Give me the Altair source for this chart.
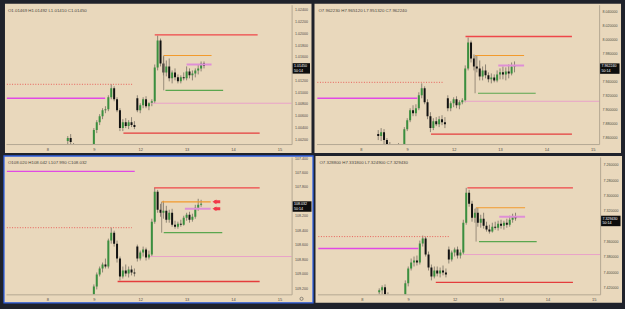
import altair as alt
import pandas as pd

FONT = "Liberation Sans"
BG = "#e9d8bc"
FRAME = "#1f222b"
GREEN = "#3a8f3e"
BLACK = "#121212"
WICK = "#8c8373"
AXIS_LINE = "#b3a792"
LABEL = "#4d4a45"
BLUE = "#2f5fe0"

# ---------------- data ----------------
DAY_TICKS = [0, 16, 32, 48, 64, 80]
DAY_LABELS = ["8", "9", "12", "13", "14", "15"]
COUNTDOWN = "50:14"

LEVEL_NAMES = ["red_top", "orange", "pink_short", "green", "red_dotted", "magenta", "pink_long", "red_bottom"]

# top-left
tl_bar = list(range(7, 55))
tl_open = [1.00169, 1.00220, 1.00102, 1.00034, 1.00017, 0.99983, 1.00017, 0.99966, 1.00000, 1.00051,
           1.00355, 1.00490, 1.00592, 1.00693, 1.00710, 1.00913, 1.01065, 1.00879, 1.00693, 1.00389,
           1.00490, 1.00423, 1.00490, 1.00440, 1.00896, 1.00693, 1.00778, 1.00879, 1.00761, 1.00811,
           1.00845, 1.01420, 1.01876, 1.01487, 1.01335, 1.01437, 1.01234, 1.01335, 1.01251, 1.01183,
           1.01251, 1.01234, 1.01352, 1.01285, 1.01318, 1.01369, 1.01403, 1.01487]
tl_close = [1.00220, 1.00152, 1.00034, 1.00017, 0.99983, 1.00017, 0.99966, 1.00000, 1.00051, 1.00355,
            1.00490, 1.00592, 1.00693, 1.00710, 1.00913, 1.01065, 1.00879, 1.00693, 1.00389, 1.00490,
            1.00423, 1.00490, 1.00440, 1.00406, 1.00693, 1.00778, 1.00879, 1.00761, 1.00811, 1.00845,
            1.01420, 1.01876, 1.01487, 1.01335, 1.01437, 1.01234, 1.01335, 1.01251, 1.01183, 1.01251,
            1.01234, 1.01352, 1.01285, 1.01318, 1.01369, 1.01403, 1.01487, 1.01450]
tl_high = [1.00254, 1.00288, 1.00135, 1.00085, 1.00068, 1.00051, 1.00068, 1.00034, 1.00085, 1.00389,
           1.00524, 1.00626, 1.00727, 1.00761, 1.00947, 1.01133, 1.01099, 1.00913, 1.00727, 1.00541,
           1.00558, 1.00524, 1.00575, 1.00507, 1.00947, 1.00811, 1.00913, 1.00930, 1.00828, 1.00879,
           1.01470, 1.01961, 1.01910, 1.01606, 1.01538, 1.01572, 1.01369, 1.01403, 1.01301, 1.01285,
           1.01335, 1.01437, 1.01403, 1.01369, 1.01403, 1.01470, 1.01521, 1.01521]
tl_low = [1.00068, 1.00051, 0.99983, 0.99933, 0.99916, 0.99899, 0.99916, 0.99882, 0.99933, 1.00017,
          1.00304, 1.00440, 1.00541, 1.00642, 1.00676, 1.00879, 1.00845, 1.00659, 1.00338, 1.00338,
          1.00389, 1.00372, 1.00406, 1.00372, 1.00659, 1.00642, 1.00727, 1.00727, 1.00693, 1.00761,
          1.00811, 1.01369, 1.01437, 1.01285, 1.01268, 1.01183, 1.01149, 1.01200, 1.01149, 1.01149,
          1.01200, 1.01200, 1.01234, 1.01200, 1.01251, 1.01301, 1.01352, 1.01403]
tl_level_price = [1.01972, 1.01622, 1.01470, 1.01031, 1.01133, 1.00896, 1.00811, 1.00304]
tl_level_start = [37, 40.1, 48, 40.7, -14, -14, 35.8, 26.2]
tl_level_end = [72.5, 56.6, 56.6, 60.6, 29.5, 19.9, 90, 73.2]
tl_ticks = [1.002, 1.004, 1.006, 1.008, 1.010, 1.012, 1.016, 1.018, 1.020, 1.022, 1.024]
tl_header = "O1.01469 H1.01492 L1.01410 C1.01450"
tl_last = 1.01450
tl_last_label = "1.01450"

# top-right
tr_bar = list(range(6, 54))
tr_open = [7.8643, 7.8614, 7.8671, 7.8557, 7.8471, 7.8443, 7.8414, 7.8457, 7.8429, 7.8471,
           7.8714, 7.8843, 7.8986, 7.8943, 7.9014, 7.9200, 7.9300, 7.9100, 7.8900, 7.8729,
           7.8829, 7.8786, 7.8857, 7.8814, 7.9157, 7.9014, 7.9086, 7.9143, 7.9057, 7.9100,
           7.9129, 7.9586, 7.9957, 7.9729, 7.9614, 7.9586, 7.9471, 7.9557, 7.9486, 7.9429,
           7.9457, 7.9414, 7.9500, 7.9529, 7.9500, 7.9543, 7.9514, 7.9614]
tr_close = [7.8614, 7.8671, 7.8557, 7.8471, 7.8443, 7.8414, 7.8457, 7.8429, 7.8471, 7.8714,
            7.8843, 7.8986, 7.8943, 7.9014, 7.9200, 7.9300, 7.9100, 7.8900, 7.8729, 7.8829,
            7.8786, 7.8857, 7.8814, 7.8786, 7.9014, 7.9086, 7.9143, 7.9057, 7.9100, 7.9129,
            7.9586, 7.9957, 7.9729, 7.9614, 7.9586, 7.9471, 7.9557, 7.9486, 7.9429, 7.9457,
            7.9414, 7.9500, 7.9529, 7.9500, 7.9543, 7.9514, 7.9614, 7.9622]
tr_high = [7.8700, 7.8729, 7.8714, 7.8586, 7.8529, 7.8500, 7.8471, 7.8514, 7.8486, 7.8743,
           7.8871, 7.9014, 7.9057, 7.9071, 7.9243, 7.9371, 7.9329, 7.9143, 7.8957, 7.8871,
           7.8886, 7.8900, 7.8914, 7.8886, 7.9200, 7.9114, 7.9171, 7.9186, 7.9129, 7.9157,
           7.9629, 8.0029, 7.9986, 7.9786, 7.9771, 7.9700, 7.9614, 7.9643, 7.9529, 7.9514,
           7.9500, 7.9557, 7.9586, 7.9614, 7.9600, 7.9643, 7.9671, 7.9686]
tr_low = [7.8557, 7.8543, 7.8486, 7.8414, 7.8386, 7.8357, 7.8343, 7.8371, 7.8357, 7.8443,
          7.8686, 7.8814, 7.8900, 7.8900, 7.8986, 7.9157, 7.9071, 7.8857, 7.8671, 7.8700,
          7.8757, 7.8743, 7.8771, 7.8729, 7.8971, 7.8971, 7.9029, 7.9014, 7.9000, 7.9071,
          7.9100, 7.9557, 7.9671, 7.9557, 7.9529, 7.9414, 7.9414, 7.9443, 7.9386, 7.9371,
          7.9386, 7.9386, 7.9429, 7.9429, 7.9414, 7.9443, 7.9486, 7.9529]
tr_level_price = [8.0043, 7.9771, 7.9629, 7.9229, 7.9386, 7.9157, 7.9114, 7.8643]
tr_level_start = [36.1, 39.4, 47.4, 40.4, -15, -15, 35.8, 24.2]
tr_level_end = [72.8, 56.3, 56.3, 60.3, 28.5, 19.5, 90, 72.8]
tr_ticks = [7.86, 7.88, 7.90, 7.92, 7.94, 7.98, 8.00, 8.02, 8.04]
tr_header = "O7.962230 H7.965120 L7.951320 C7.962240"
tr_last = 7.96224
tr_last_label = "7.962240"

# bottom-left (inverted price scale)
bl_bar = list(range(7, 54))
bl_open = [109.365, 109.337, 109.392, 109.434, 109.406, 109.447, 109.420, 109.461, 109.434, 109.337,
           109.173, 109.008, 108.925, 108.870, 108.898, 108.540, 108.431, 108.582, 108.788, 109.035,
           108.953, 108.994, 108.939, 108.980, 108.623, 108.788, 108.705, 108.664, 108.774, 108.733,
           108.279, 107.867, 108.114, 108.156, 108.128, 108.252, 108.156, 108.321, 108.348, 108.307,
           108.321, 108.224, 108.183, 108.252, 108.211, 108.087, 108.046]
bl_close = [109.337, 109.392, 109.434, 109.406, 109.447, 109.420, 109.461, 109.434, 109.337, 109.173,
            109.008, 108.925, 108.870, 108.898, 108.540, 108.431, 108.582, 108.788, 109.035, 108.953,
            108.994, 108.939, 108.980, 108.994, 108.788, 108.705, 108.664, 108.774, 108.733, 108.279,
            107.867, 108.114, 108.156, 108.128, 108.252, 108.156, 108.321, 108.348, 108.307, 108.321,
            108.224, 108.183, 108.252, 108.211, 108.087, 108.046, 108.032]
bl_high = [109.447, 109.434, 109.475, 109.502, 109.489, 109.516, 109.489, 109.516, 109.475, 109.365,
           109.214, 109.035, 108.980, 108.925, 108.925, 108.582, 108.623, 108.843, 109.090, 109.063,
           109.035, 109.049, 109.021, 109.035, 108.829, 108.815, 108.760, 108.815, 108.801, 108.760,
           108.307, 108.156, 108.211, 108.238, 108.293, 108.293, 108.348, 108.376, 108.376, 108.348,
           108.334, 108.266, 108.293, 108.279, 108.238, 108.128, 108.073]
bl_low = [109.310, 109.296, 109.337, 109.365, 109.351, 109.379, 109.365, 109.392, 109.310, 109.145,
          108.980, 108.898, 108.843, 108.788, 108.513, 108.362, 108.403, 108.540, 108.760, 108.898,
          108.870, 108.898, 108.884, 108.925, 108.595, 108.678, 108.623, 108.637, 108.678, 108.238,
          107.812, 107.840, 108.032, 107.991, 108.060, 108.114, 108.101, 108.266, 108.279, 108.252,
          108.197, 108.156, 108.142, 108.169, 108.046, 107.963, 107.977]
bl_level_price = [107.812, 108.005, 108.101, 108.431, 108.362, 107.585, 108.760, 109.104]
bl_level_start = [36.8, 39.4, 47.4, 40.1, -14, -14, 35.4, 24.2]
bl_level_end = [73.2, 56.3, 56.3, 60.3, 29.1, 30.1, 90, 73.2]
bl_ticks = [107.4, 107.6, 107.8, 108.2, 108.4, 108.6, 108.8, 109.0, 109.2]
bl_header = "O108.020 H108.042 L107.990 C108.032"
bl_last = 108.032
bl_last_label = "108.032"
bl_arrow_price = [108.005, 108.101]
bl_arrow_head = 57.6
bl_arrow_tail = 59.6

# bottom-right (inverted price scale)
br_bar = list(range(6, 54))
br_open = [7.4261, 7.4235, 7.4196, 7.4300, 7.4352, 7.4378, 7.4404, 7.4365, 7.4391, 7.4352,
           7.4144, 7.3950, 7.3872, 7.3846, 7.3872, 7.3625, 7.3560, 7.3768, 7.3937, 7.4053,
           7.3976, 7.4014, 7.3976, 7.4001, 7.3703, 7.3833, 7.3742, 7.3703, 7.3781, 7.3742,
           7.3353, 7.2963, 7.3106, 7.3288, 7.3223, 7.3353, 7.3301, 7.3392, 7.3443, 7.3469,
           7.3405, 7.3418, 7.3366, 7.3392, 7.3353, 7.3379, 7.3314, 7.3275]
br_close = [7.4235, 7.4196, 7.4300, 7.4352, 7.4378, 7.4404, 7.4365, 7.4391, 7.4352, 7.4144,
            7.3950, 7.3872, 7.3846, 7.3872, 7.3625, 7.3560, 7.3768, 7.3937, 7.4053, 7.3976,
            7.4014, 7.3976, 7.4001, 7.4027, 7.3833, 7.3742, 7.3703, 7.3781, 7.3742, 7.3353,
            7.2963, 7.3106, 7.3288, 7.3223, 7.3353, 7.3301, 7.3392, 7.3443, 7.3469, 7.3405,
            7.3418, 7.3366, 7.3392, 7.3353, 7.3379, 7.3314, 7.3275, 7.3294]
br_high = [7.4326, 7.4313, 7.4339, 7.4391, 7.4430, 7.4443, 7.4469, 7.4430, 7.4443, 7.4378,
           7.4183, 7.3976, 7.3924, 7.3911, 7.3898, 7.3664, 7.3794, 7.3976, 7.4105, 7.4079,
           7.4053, 7.4066, 7.4040, 7.4066, 7.3885, 7.3859, 7.3794, 7.3820, 7.3820, 7.3768,
           7.3379, 7.3145, 7.3340, 7.3353, 7.3405, 7.3418, 7.3430, 7.3469, 7.3495, 7.3482,
           7.3443, 7.3456, 7.3430, 7.3443, 7.3418, 7.3405, 7.3353, 7.3327]
br_low = [7.4209, 7.4170, 7.4157, 7.4261, 7.4300, 7.4326, 7.4352, 7.4326, 7.4339, 7.4105,
          7.3924, 7.3820, 7.3794, 7.3781, 7.3586, 7.3521, 7.3534, 7.3729, 7.3898, 7.3924,
          7.3924, 7.3937, 7.3911, 7.3950, 7.3664, 7.3716, 7.3677, 7.3664, 7.3703, 7.3314,
          7.2898, 7.2924, 7.3067, 7.3171, 7.3158, 7.3249, 7.3223, 7.3340, 7.3379, 7.3353,
          7.3340, 7.3327, 7.3314, 7.3327, 7.3301, 7.3262, 7.3236, 7.3223]
br_level_price = [7.2898, 7.3158, 7.3275, 7.3599, 7.3534, 7.3690, 7.3768, 7.4131]
br_level_start = [36.4, 39.4, 47.4, 40.4, -15, -15, 35.1, 25.5]
br_level_end = [72.8, 56.3, 56.3, 60.3, 30.1, 19.5, 90, 72.8]
br_ticks = [7.26, 7.28, 7.30, 7.32, 7.36, 7.38, 7.40, 7.42]
br_header = "O7.328800 H7.331800 L7.324900 C7.329430"
br_last = 7.32943
br_last_label = "7.329430"

# ---------------- styles ----------------
LEVEL_STYLE = {
    "red_top": ("#ef4649", 1.4),
    "orange": ("#f29a2c", 1.2),
    "pink_short": ("#df8fd6", 2.0),
    "green": ("#5aa64e", 1.2),
    "red_dotted": ("#e8605a", 1.0),
    "magenta": ("#e14ae4", 1.4),
    "pink_long": ("#e9a2c9", 1.0),
    "red_bottom": ("#e43c3c", 1.4),
}


def label_expr(ticks, labels):
    expr = "''"
    for t, lab in reversed(list(zip(ticks, labels))):
        expr = f"datum.value == {t} ? '{lab}' : ({expr})"
    return expr


def make_panel(bar, o, h, l, c, lv_price, lv_start, lv_end, ticks, fmt, ydom, reverse,
               W, H, xdom, axis_w, header, last, last_label, border=False, arrows=None):
    xs = alt.Scale(domain=xdom, nice=False, zero=False)
    ys = alt.Scale(domain=ydom, nice=False, zero=False, reverse=reverse)
    xax = alt.Axis(values=DAY_TICKS, labelExpr=label_expr(DAY_TICKS, DAY_LABELS), grid=False,
                   ticks=False, labelFontSize=4, labelColor=LABEL, labelFont=FONT,
                   domainColor=AXIS_LINE, domainWidth=1, labelPadding=3, labelFlush=False,
                   labelOverlap=False, zindex=1, title=None)
    yax = alt.Axis(values=ticks, format=fmt, orient="right", grid=False, ticks=False,
                   labelFontSize=3.6, labelColor=LABEL, labelFont=FONT, domainColor=AXIS_LINE,
                   domainWidth=1, labelPadding=3, labelFlush=False, labelOverlap=False,
                   zindex=1, title=None)

    def X(f):
        return alt.X(f"{f}:Q", scale=xs, axis=xax, title=None)

    def Y(f):
        return alt.Y(f"{f}:Q", scale=ys, axis=yax, title=None)

    one = pd.DataFrame({"k": [0]})
    x_left = -1 if axis_w <= 20 else -2
    bg = alt.Chart(one).mark_rect(
        fill=BG, clip=False,
        stroke=BLUE if border else BG, strokeWidth=1.3 if border else 0
    ).encode(x=alt.value(x_left), x2=alt.value(W + axis_w),
             y=alt.value(-1), y2=alt.value(H + 9 if H >= 140 else H + 8.5))

    cd = pd.DataFrame({"bar": bar, "o": o, "h": h, "l": l, "c": c})
    up = "datum.c <= datum.o" if reverse else "datum.c >= datum.o"
    wick = alt.Chart(cd).mark_rule(color=WICK, strokeWidth=1.0, clip=True).encode(
        x=X("bar"), y=Y("l"), y2=alt.Y2("h:Q"))
    body = alt.Chart(cd).mark_bar(size=2, clip=True).encode(
        x=X("bar"), y=Y("o"), y2=alt.Y2("c:Q"),
        color=alt.condition(up, alt.value(GREEN), alt.value(BLACK)))

    lv = pd.DataFrame({"name": LEVEL_NAMES, "p": lv_price, "s": lv_start, "e": lv_end})
    lv["col"] = [LEVEL_STYLE[n][0] for n in LEVEL_NAMES]
    lv["w"] = [LEVEL_STYLE[n][1] for n in LEVEL_NAMES]
    solid = alt.Chart(lv[lv["name"] != "red_dotted"]).mark_rule(clip=True).encode(
        x=X("s"), x2=alt.X2("e:Q"), y=Y("p"),
        color=alt.Color("col:N", scale=None), strokeWidth=alt.StrokeWidth("w:Q", scale=None))
    dotted = alt.Chart(lv[lv["name"] == "red_dotted"]).mark_rule(
        clip=True, strokeDash=[1, 1.6], color=LEVEL_STYLE["red_dotted"][0], strokeWidth=1).encode(
        x=X("s"), x2=alt.X2("e:Q"), y=Y("p"))

    # left edge of the orange/green box
    box = pd.DataFrame({"s": [lv_start[1]], "p1": [lv_price[1]], "p2": [lv_price[3]]})
    vline = alt.Chart(box).mark_rule(color="#85796a", strokeWidth=0.8, clip=True).encode(
        x=X("s"), y=Y("p1"), y2=alt.Y2("p2:Q"))

    layers = [bg, wick, body, solid, dotted, vline]

    if arrows is not None:
        ap, ah, at = arrows
        adf = pd.DataFrame({"p": ap, "h": [ah] * len(ap), "t": [at] * len(ap)})
        tail = alt.Chart(adf).mark_rule(color="#f2384a", strokeWidth=3, clip=True).encode(
            x=X("h"), x2=alt.X2("t:Q"), y=Y("p"))
        head = alt.Chart(adf).mark_point(shape="triangle-left", filled=True, color="#f2384a",
                                         size=22, opacity=1, clip=True).encode(x=X("h"), y=Y("p"))
        layers += [tail, head]

    hdr = alt.Chart(pd.DataFrame({"t": [header]})).mark_text(
        align="left", baseline="middle", fontSize=4.4, color="#4a4740", font=FONT).encode(
        x=alt.value(2), y=alt.value(6), text="t:N")

    lp = pd.DataFrame({"p": [last], "lab": [last_label], "cd": [COUNTDOWN]})
    pbox = alt.Chart(lp).mark_rect(color="#0d0d0d", clip=False, yOffset=-2.5, y2Offset=8).encode(
        x=alt.value(W + 0.6), x2=alt.value(W + axis_w - 1.5), y=Y("p"), y2=alt.Y2("p:Q"))
    ptxt = alt.Chart(lp).mark_text(align="left", baseline="middle", fontSize=3.6, color="white",
                                   font=FONT, dy=0.5).encode(
        x=alt.value(W + 2.5), y=Y("p"), text="lab:N")
    ctxt = alt.Chart(lp).mark_text(align="left", baseline="middle", fontSize=3.6, color="white",
                                   font=FONT, dy=5).encode(
        x=alt.value(W + 2.5), y=Y("p"), text="cd:N")
    layers += [hdr, pbox, ptxt, ctxt]

    if border:
        gear = alt.Chart(one).mark_point(shape="circle", size=10, filled=False, color="#444",
                                         strokeWidth=0.8).encode(
            x=alt.value(W + 10), y=alt.value(H + 4.5))
        layers.append(gear)

    return alt.layer(*layers).properties(width=W, height=H)


LX = [-12.6, 82.5]
RX = [-13.58, 80.46]

tl = make_panel(tl_bar, tl_open, tl_high, tl_low, tl_close, tl_level_price, tl_level_start,
                tl_level_end, tl_ticks, ".5f", [1.00118, 1.02485], False, 287, 140, LX, 20,
                tl_header, tl_last, tl_last_label)
tr = make_panel(tr_bar, tr_open, tr_high, tr_low, tr_close, tr_level_price, tr_level_start,
                tr_level_end, tr_ticks, ".6f", [7.85, 8.05], False, 284, 140, RX, 22,
                tr_header, tr_last, tr_last_label)
bl = make_panel(bl_bar, bl_open, bl_high, bl_low, bl_close, bl_level_price, bl_level_start,
                bl_level_end, bl_ticks, ".3f", [107.386, 109.282], True, 287, 138, LX, 21.5,
                bl_header, bl_last, bl_last_label, border=True,
                arrows=(bl_arrow_price, bl_arrow_head, bl_arrow_tail))
br = make_panel(br_bar, br_open, br_high, br_low, br_close, br_level_price, br_level_start,
                br_level_end, br_ticks, ".6f", [7.2496, 7.4287], True, 284, 138, RX, 22,
                br_header, br_last, br_last_label)

chart = alt.vconcat(
    alt.hconcat(tl, tr, spacing=3),
    alt.hconcat(bl, br, spacing=1),
    spacing=2,
).properties(
    background=FRAME,
    padding={"left": 3, "top": 3, "right": 3, "bottom": 7},
).configure_view(strokeWidth=0)

chart.save("out.html", embed_options={"renderer": "svg", "actions": False})
